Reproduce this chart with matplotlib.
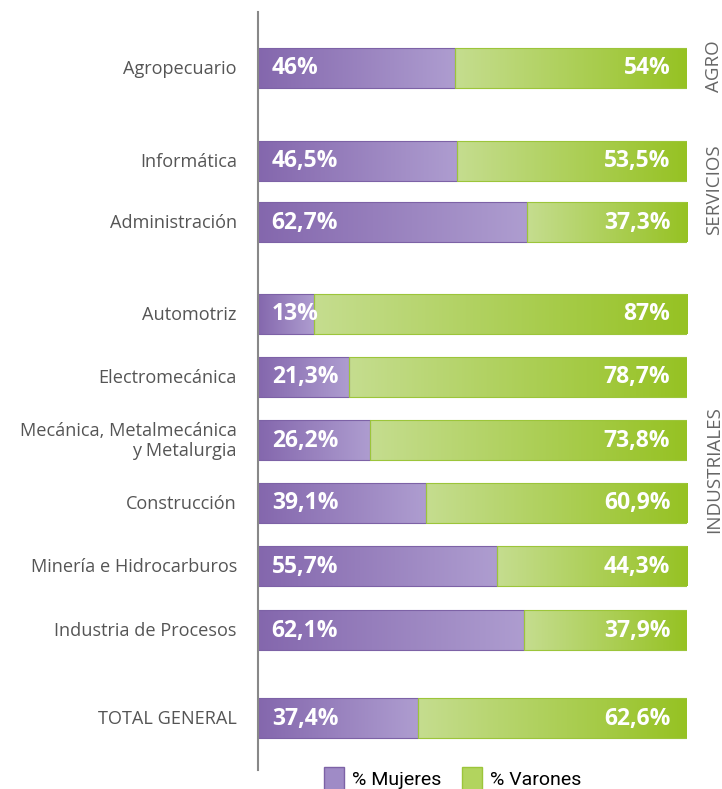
import matplotlib
matplotlib.use("Agg")
import matplotlib.pyplot as plt
import numpy as np
from matplotlib.colors import LinearSegmentedColormap
from matplotlib.patches import Rectangle, Patch

categories = ["Agropecuario", "Informática", "Administración", "Automotriz",
              "Electromecánica", "Mecánica, Metalmecánica\ny Metalurgia",
              "Construcción", "Minería e Hidrocarburos", "Industria de Procesos",
              "TOTAL GENERAL"]
mujeres = [46, 46.5, 62.7, 13, 21.3, 26.2, 39.1, 55.7, 62.1, 37.4]
varones = [54, 53.5, 37.3, 87, 78.7, 73.8, 60.9, 44.3, 37.9, 62.6]
mujeres_lbl = ["46%", "46,5%", "62,7%", "13%", "21,3%", "26,2%", "39,1%", "55,7%", "62,1%", "37,4%"]
varones_lbl = ["54%", "53,5%", "37,3%", "87%", "78,7%", "73,8%", "60,9%", "44,3%", "37,9%", "62,6%"]
groups = ["AGRO", "SERVICIOS", "INDUSTRIALES"]
group_members = [[0], [1, 2], [3, 4, 5, 6, 7, 8]]
legend_labels = ["% Mujeres", "% Varones"]

# layout (pixel-like vertical positions)
ypos = [68, 161, 222, 314, 377, 440, 503, 566, 630, 718]
bar_h = 40

W, H = 722, 789
fig = plt.figure(figsize=(W / 100, H / 100), dpi=100)
ax_left, ax_right = 258, 687
ax_top, ax_bot = 12, 770
ax = fig.add_axes([ax_left / W, 1 - ax_bot / H, (ax_right - ax_left) / W, (ax_bot - ax_top) / H])
ax.set_xlim(0, 100)
ax.set_ylim(ax_bot, ax_top)
ax.axis("off")

cm_p = LinearSegmentedColormap.from_list("p", ["#8467ad", "#ae9dd0"])
cm_g = LinearSegmentedColormap.from_list("g", ["#c5dd8f", "#96c223"])

def grad_bar(x0, w, yc, cmap, edge):
    grad = np.linspace(0, 1, 256).reshape(1, -1)
    im = ax.imshow(grad, cmap=cmap, aspect="auto", interpolation="bilinear",
                   extent=(x0, x0 + w, yc + bar_h / 2, yc - bar_h / 2), zorder=2)
    rect = Rectangle((x0, yc - bar_h / 2), w, bar_h, facecolor="none",
                     edgecolor=edge, linewidth=0.8, zorder=3)
    ax.add_patch(rect)
    im.set_clip_path(rect)

for i, cat in enumerate(categories):
    y = ypos[i]
    grad_bar(0, mujeres[i], y, cm_p, "#7d62a6")
    grad_bar(mujeres[i], varones[i], y, cm_g, "#9cc53a")
    ax.text(3.2, y + 0.5, mujeres_lbl[i], color="white", fontsize=16.5, fontweight="bold",
            family="Open Sans", ha="left", va="center", zorder=4)
    ax.text(96.1, y + 0.5, varones_lbl[i], color="white", fontsize=16.5, fontweight="bold",
            family="Open Sans", ha="right", va="center", zorder=4)
    ax.text(-4.9, y + 1, cat, color="#555555", fontsize=13.1, family="Open Sans",
            ha="right", va="center", multialignment="right", linespacing=1.15,
            clip_on=False)

ax.set_ylim(ax_bot, ax_top)
ax.set_xlim(0, 100)

# vertical axis line
ax.plot([0, 0], [ax_top, ax_bot], color="#888888", lw=1.5, clip_on=False, zorder=5)

# group labels
for g, mem in zip(groups, group_members):
    yc = (ypos[mem[0]] + ypos[mem[-1]]) / 2
    ax.text(106.3, yc - 2, g, rotation=90, color="#666666", fontsize=13.5,
            family="Open Sans", ha="center", va="center", clip_on=False)

# legend
handles = [Patch(facecolor="#9f8bc6", edgecolor="#7d62a6"),
           Patch(facecolor="#b2d45e", edgecolor="#9cc53a")]
fig.legend(handles, legend_labels, loc="center", bbox_to_anchor=(0.627, 0.013),
           ncol=2, frameon=False, handlelength=1.0, handleheight=1.5,
           columnspacing=1.1, handletextpad=0.4,
           prop={"family": "Roboto", "size": 14})

fig.savefig("out.png", dpi=100)
